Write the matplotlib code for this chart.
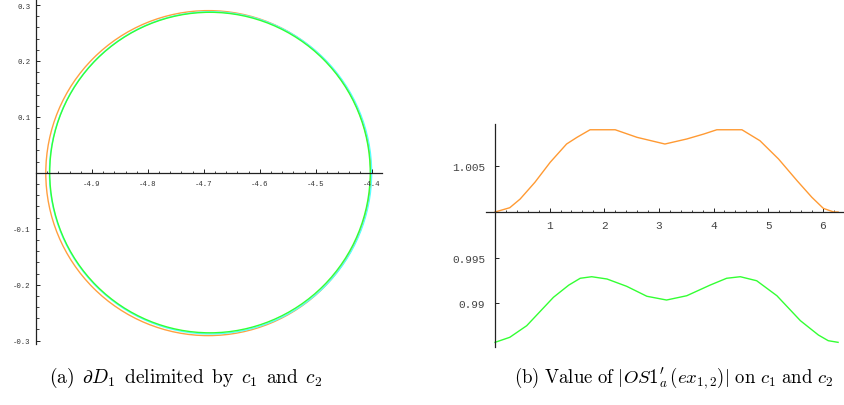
import matplotlib
matplotlib.use("Agg")
import matplotlib.pyplot as plt
from matplotlib.patches import Circle
from matplotlib.ticker import MultipleLocator

plt.rcParams['mathtext.fontset'] = 'cm'

# boundary curves of D1: (centre x, centre y, radius)
curve_names = ['c1', 'ref', 'c2']
curve_colors = ['#ffa040', '#55ffff', '#33ff33']
centre_x = [-4.692, -4.688, -4.689]
centre_y = [-0.0005, 0.0, 0.0005]
radius = [0.2905, 0.2880, 0.2865]

# |OS1'_a| sampled along c1 (orange) and c2 (green)
t_c1 = [0.0, 0.27, 0.46, 0.73, 1.01, 1.31, 1.50, 1.74, 2.20, 2.60, 3.11,
        3.51, 3.82, 4.06, 4.52, 4.85, 5.19, 5.53, 5.80, 6.01, 6.20, 6.28]
v_c1 = [1.0, 1.00047, 1.00142, 1.00325, 1.00544, 1.00744, 1.00817, 1.00900,
        1.00900, 1.00817, 1.00744, 1.00799, 1.00853, 1.00900, 1.00900,
        1.00780, 1.00580, 1.00342, 1.00161, 1.0004, 1.0, 1.0]
t_c2 = [0.0, 0.27, 0.58, 1.07, 1.35, 1.56, 1.77, 2.05, 2.41, 2.78, 3.14,
        3.51, 3.94, 4.24, 4.49, 4.79, 5.16, 5.59, 5.92, 6.10, 6.28]
v_c2 = [0.98574, 0.98629, 0.98756, 0.99067, 0.99200, 0.99275, 0.99292,
        0.99267, 0.99187, 0.99078, 0.99037, 0.99084, 0.99201, 0.99275,
        0.99292, 0.99248, 0.99084, 0.98811, 0.98654, 0.98592, 0.98574]

fig = plt.figure(figsize=(8.44, 4.06), dpi=100)

tick_font = 'Liberation Mono'

# ---- (a) the domain boundary
ax1 = fig.add_axes([36 / 844, 61 / 406, 345.7 / 844, 344 / 406])
for cx, cy, r, col in zip(centre_x, centre_y, radius, curve_colors):
    ax1.add_patch(Circle((cx, cy), r, fill=False, ec=col, lw=1.0))
ax1.set_xlim(-5.0, -4.382)
ax1.set_ylim(-0.306, 0.309)
for s in ['top', 'right']:
    ax1.spines[s].set_visible(False)
ax1.spines['bottom'].set_position(('data', 0))
for s in ['bottom', 'left']:
    ax1.spines[s].set_color('#222222')
    ax1.spines[s].set_linewidth(0.9)
ax1.xaxis.set_minor_locator(MultipleLocator(0.02))
ax1.yaxis.set_minor_locator(MultipleLocator(0.02))
ax1.set_xticks([-4.9, -4.8, -4.7, -4.6, -4.5, -4.4])
ax1.set_xticklabels(['-4.9', '-4.8', '-4.7', '-4.6', '-4.5', '-4.4'])
ax1.set_yticks([-0.3, -0.2, -0.1, 0.1, 0.2, 0.3])
ax1.set_yticklabels(['-0.3', '-0.2', '-0.1', '0.1', '0.2', '0.3'])
ax1.tick_params(which='major', direction='in', length=3, width=0.7,
                labelsize=5.3, colors='#222222', labelcolor='#333333')
ax1.tick_params(which='minor', direction='in', length=1.8, width=0.6,
                colors='#222222')
ax1.tick_params(axis='x', pad=5)
ax1.tick_params(axis='y', pad=4)
for lab in ax1.get_xticklabels() + ax1.get_yticklabels():
    lab.set_family(tick_font)
ax1.set_facecolor('none')

# ---- (b) value along the two curves
ax2 = fig.add_axes([486 / 844, 58 / 406, 357 / 844, 223 / 406])
ax2.plot(t_c1, v_c1, color='#ff9a33', lw=1.0)
ax2.plot(t_c2, v_c2, color='#33ff33', lw=1.0)
ax2.set_xlim(-0.165, 6.37)
ax2.set_ylim(0.98523, 1.00963)
for s in ['top', 'right']:
    ax2.spines[s].set_visible(False)
ax2.spines['bottom'].set_position(('data', 1.0))
ax2.spines['left'].set_position(('data', 0.0))
for s in ['bottom', 'left']:
    ax2.spines[s].set_color('#222222')
    ax2.spines[s].set_linewidth(0.9)
ax2.set_xticks([1, 2, 3, 4, 5, 6])
ax2.xaxis.set_minor_locator(MultipleLocator(0.2))
ax2.set_yticks([0.99, 0.995, 1.005])
ax2.set_yticklabels(['0.99', '0.995', '1.005'])
ax2.tick_params(which='major', direction='in', length=3, width=0.7,
                labelsize=8, colors='#222222', labelcolor='#444444')
ax2.tick_params(which='minor', direction='in', length=1.8, width=0.6,
                colors='#222222')
ax2.tick_params(axis='x', pad=6)
ax2.tick_params(axis='y', pad=7)
for lab in ax2.get_xticklabels() + ax2.get_yticklabels():
    lab.set_family(tick_font)

# captions
fig.text(186 / 844, 28 / 406,
         r"$\mathrm{(a)}\ \,\partial D_1\ \,\mathrm{delimited\ \,by}\ \,c_1\ \,\mathrm{and}\ \,c_2$",
         ha='center', va='center', fontsize=14)
fig.text(674 / 844, 28 / 406,
         r"$\mathrm{(b)\ Value\ of}\ |OS1^{\prime}_{a}\,(ex_{1,2})|\ \mathrm{on}\ c_1\ \mathrm{and}\ c_2$",
         ha='center', va='center', fontsize=13.5)

fig.savefig('out.png', dpi=100)
